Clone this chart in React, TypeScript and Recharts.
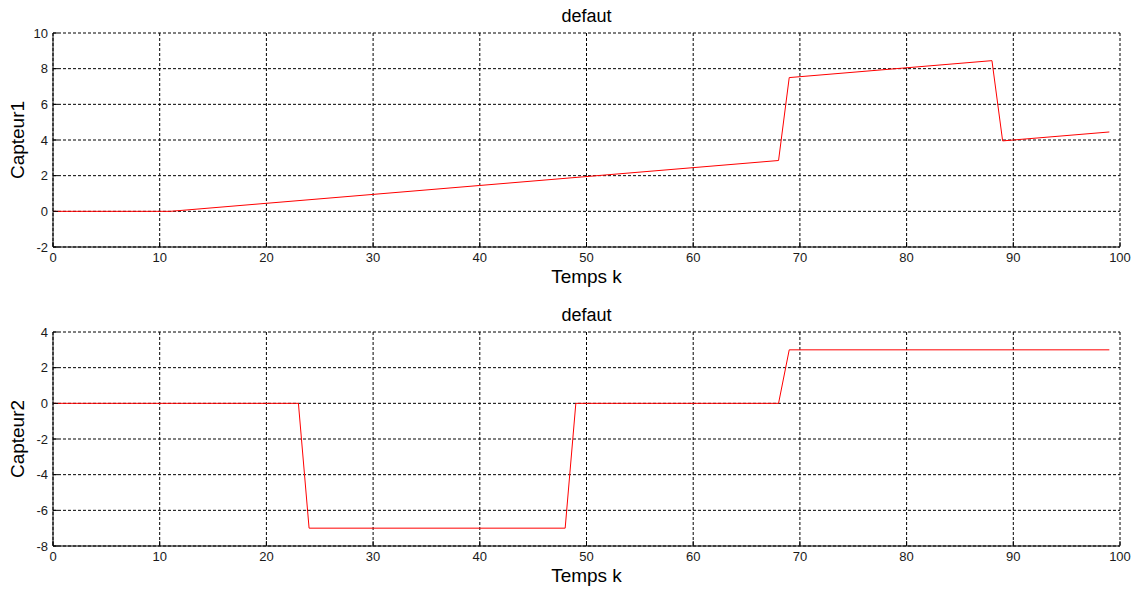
import { LineChart, Line, XAxis, YAxis, CartesianGrid } from "recharts";

// Capteur1 breakpoints (k, value)
const kCapteur1 = [0, 11, 68, 69, 88, 89, 99];
const capteur1 = [0, 0, 2.85, 7.5, 8.45, 3.95, 4.45];

// Capteur2 breakpoints (k, value)
const kCapteur2 = [0, 23, 24, 48, 49, 68, 69, 99];
const capteur2 = [0, 0, -7, -7, 0, 0, 3, 3];

const xTicks = [0, 10, 20, 30, 40, 50, 60, 70, 80, 90, 100];
const yTicks1 = [-2, 0, 2, 4, 6, 8, 10];
const yTicks2 = [-8, -6, -4, -2, 0, 2, 4];

const title = "defaut";
const xLabel = "Temps k";

const FONT = "'Liberation Sans', Arial, Helvetica, sans-serif";
const tickStyle = { fontSize: 13, fill: "#1a1a1a", fontFamily: FONT };

type PanelProps = {
  ks: number[];
  values: number[];
  yTicks: number[];
  yLabel: string;
  top: number;
  height: number;
  marginTop: number;
  xAxisHeight: number;
};

function Panel({ ks, values, yTicks, yLabel, top, height, marginTop, xAxisHeight }: PanelProps) {
  const data = ks.map((k, i) => ({ k, v: values[i] }));
  const yDomain: [number, number] = [yTicks[0], yTicks[yTicks.length - 1]];
  const plotTop = top + marginTop;
  const plotBottom = top + height - xAxisHeight;
  return (
    <>
      <div
        style={{
          position: "absolute",
          left: 53,
          width: 1067,
          top: plotTop - 27,
          textAlign: "center",
          fontSize: 18,
          fontFamily: FONT,
          color: "#000",
        }}
      >
        {title}
      </div>
      <div
        style={{
          position: "absolute",
          left: 18 - 100,
          width: 200,
          top: (plotTop + plotBottom) / 2 - 11,
          textAlign: "center",
          fontSize: 19,
          fontFamily: FONT,
          color: "#000",
          transform: "rotate(-90deg)",
        }}
      >
        {yLabel}
      </div>
      <div
        style={{
          position: "absolute",
          left: 53,
          width: 1067,
          top: plotBottom + 19,
          textAlign: "center",
          fontSize: 19,
          fontFamily: FONT,
          color: "#000",
        }}
      >
        {xLabel}
      </div>
      <div style={{ position: "absolute", left: 0, top }}>
        <LineChart
          width={1138}
          height={height}
          data={data}
          margin={{ top: marginTop, right: 18, bottom: 0, left: 0 }}
        >
          <CartesianGrid stroke="#000" strokeDasharray="3 2" />
          <XAxis
            dataKey="k"
            type="number"
            domain={[0, 100]}
            ticks={xTicks}
            interval={0}
            height={xAxisHeight}
            tick={tickStyle}
            tickSize={-5}
            tickMargin={11}
            axisLine={{ stroke: "#000" }}
            tickLine={{ stroke: "#000" }}
          />
          <XAxis
            xAxisId="top"
            orientation="top"
            dataKey="k"
            type="number"
            domain={[0, 100]}
            ticks={xTicks}
            interval={0}
            height={0}
            tick={false}
            tickSize={-5}
            axisLine={{ stroke: "#000" }}
            tickLine={{ stroke: "#000" }}
          />
          <YAxis
            type="number"
            domain={yDomain}
            ticks={yTicks}
            interval={0}
            width={53}
            tick={tickStyle}
            tickSize={-5}
            tickMargin={10}
            axisLine={{ stroke: "#000" }}
            tickLine={{ stroke: "#000" }}
          />
          <YAxis
            yAxisId="right"
            orientation="right"
            type="number"
            domain={yDomain}
            ticks={yTicks}
            interval={0}
            width={0}
            tick={false}
            tickSize={-5}
            axisLine={{ stroke: "#000" }}
            tickLine={{ stroke: "#000" }}
          />
          <Line
            type="linear"
            dataKey="v"
            stroke="#ff0000"
            strokeWidth={1}
            dot={false}
            isAnimationActive={false}
          />
        </LineChart>
      </div>
    </>
  );
}

export default function App() {
  return (
    <div
      style={{
        position: "absolute",
        left: 0,
        top: 0,
        width: 1138,
        height: 591,
        background: "#fff",
        overflow: "hidden",
      }}
    >
      <Panel
        ks={kCapteur1}
        values={capteur1}
        yTicks={yTicks1}
        yLabel="Capteur1"
        top={0}
        height={300}
        marginTop={33}
        xAxisHeight={53}
      />
      <Panel
        ks={kCapteur2}
        values={capteur2}
        yTicks={yTicks2}
        yLabel="Capteur2"
        top={300}
        height={291}
        marginTop={32}
        xAxisHeight={45}
      />
    </div>
  );
}
